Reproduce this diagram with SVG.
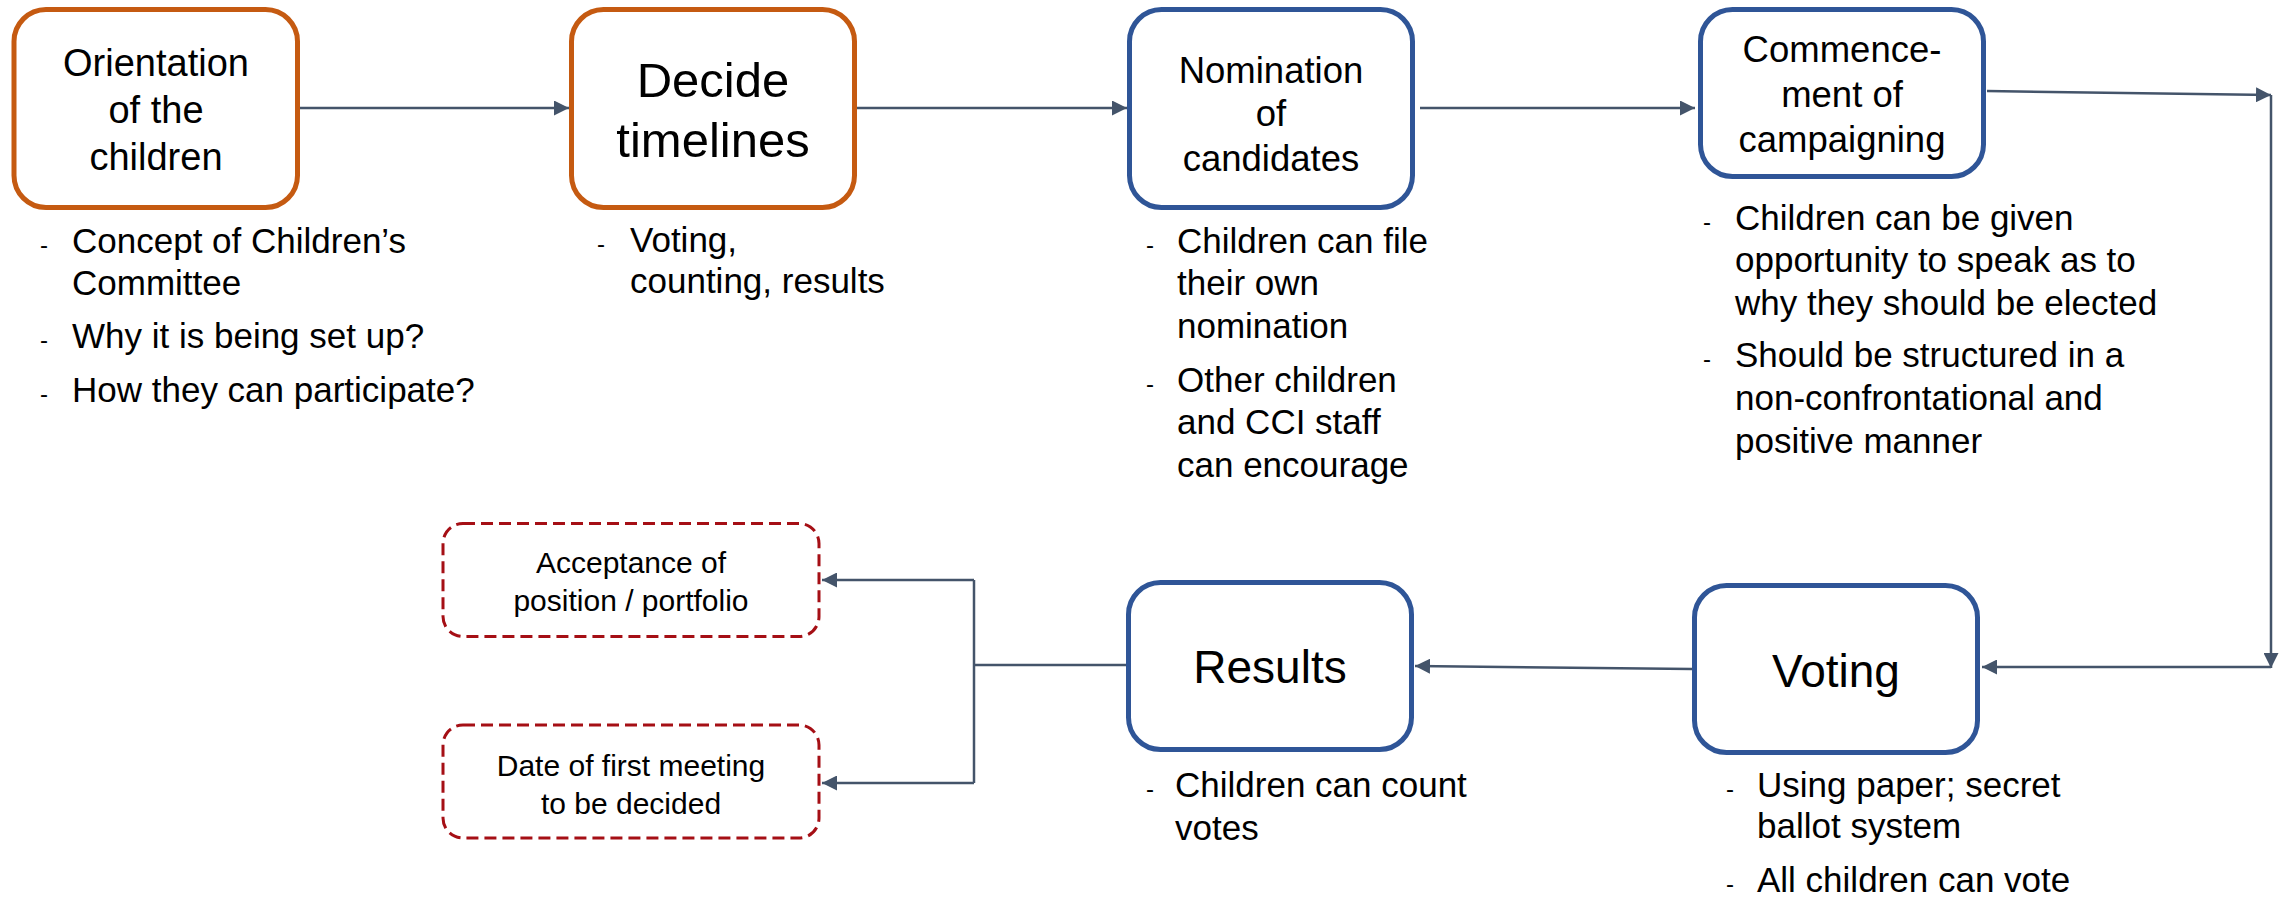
<svg xmlns="http://www.w3.org/2000/svg" width="2285" height="898" viewBox="0 0 2285 898">
<style>
.orange{fill:#fff;stroke:#C55A11;stroke-width:5}
.blue{fill:#fff;stroke:#2F5597;stroke-width:5}
.dashed{fill:#fff;stroke:#A50F15;stroke-width:3;stroke-dasharray:12 6}
text{font-family:"Liberation Sans",Arial,sans-serif;fill:#000}
.t{text-anchor:middle}
.b{font-size:35px}
.d{font-size:24px}
.s{font-size:30px}
.conn{fill:none;stroke:#44546A;stroke-width:2.5}
</style>
<defs>
<marker id="arr" markerUnits="userSpaceOnUse" markerWidth="16" markerHeight="15" refX="15" refY="7.5" orient="auto">
<path d="M0,0 L15,7.5 L0,15 z" fill="#44546A"/>
</marker>
</defs>
<rect width="2285" height="898" fill="#fff"/>
<g id="connectors">
<line class="conn" x1="300" y1="108" x2="569" y2="108" marker-end="url(#arr)"/>
<line class="conn" x1="857" y1="108" x2="1127" y2="108" marker-end="url(#arr)"/>
<line class="conn" x1="1420" y1="108" x2="1695" y2="108" marker-end="url(#arr)"/>
<line class="conn" x1="1987" y1="91" x2="2271" y2="95" marker-end="url(#arr)"/>
<line class="conn" x1="2271" y1="95" x2="2271" y2="668" marker-end="url(#arr)"/>
<line class="conn" x1="2271" y1="667" x2="1982" y2="667" marker-end="url(#arr)"/>
<line class="conn" x1="1692" y1="669" x2="1415" y2="666" marker-end="url(#arr)"/>
<polyline class="conn" points="1126,665 974,665"/>
<polyline class="conn" points="974,580 974,783"/>
<line class="conn" x1="974" y1="580" x2="822" y2="580" marker-end="url(#arr)"/>
<line class="conn" x1="974" y1="783" x2="822" y2="783" marker-end="url(#arr)"/>
</g>
<g id="orientation">
<rect class="orange" x="14" y="9.5" width="283.5" height="198" rx="32"/>
<text class="t" x="156" y="76" font-size="38">Orientation</text>
<text class="t" x="156" y="123" font-size="38">of the</text>
<text class="t" x="156" y="170" font-size="38">children</text>
<text class="d" x="40" y="253">-</text>
<text class="b" x="72" y="253">Concept of Children’s</text>
<text class="b" x="72" y="295">Committee</text>
<text class="d" x="40" y="348">-</text>
<text class="b" x="72" y="348">Why it is being set up?</text>
<text class="d" x="40" y="402">-</text>
<text class="b" x="72" y="402">How they can participate?</text>
</g>
<g id="decide">
<rect class="orange" x="571.5" y="9.5" width="283" height="198" rx="32"/>
<text class="t" x="713" y="97" font-size="49">Decide</text>
<text class="t" x="713" y="157" font-size="49">timelines</text>
<text class="d" x="597" y="252">-</text>
<text class="b" x="630" y="252">Voting,</text>
<text class="b" x="630" y="293">counting, results</text>
</g>
<g id="nomination">
<rect class="blue" x="1129.5" y="9.5" width="283" height="198" rx="32"/>
<text class="t" x="1271" y="83" font-size="36.5">Nomination</text>
<text class="t" x="1271" y="126" font-size="36.5">of</text>
<text class="t" x="1271" y="171" font-size="36.5">candidates</text>
<text class="d" x="1146" y="253">-</text>
<text class="b" x="1177" y="253">Children can file</text>
<text class="b" x="1177" y="295">their own</text>
<text class="b" x="1177" y="338">nomination</text>
<text class="d" x="1146" y="392">-</text>
<text class="b" x="1177" y="392">Other children</text>
<text class="b" x="1177" y="434">and CCI staff</text>
<text class="b" x="1177" y="477">can encourage</text>
</g>
<g id="commencement">
<rect class="blue" x="1700.5" y="9.5" width="283" height="167" rx="32"/>
<text class="t" x="1842" y="62" font-size="36.5">Commence-</text>
<text class="t" x="1842" y="107" font-size="36.5">ment of</text>
<text class="t" x="1842" y="152" font-size="36.5">campaigning</text>
<text class="d" x="1703" y="230">-</text>
<text class="b" x="1735" y="230">Children can be given</text>
<text class="b" x="1735" y="272">opportunity to speak as to</text>
<text class="b" x="1735" y="315">why they should be elected</text>
<text class="d" x="1703" y="367">-</text>
<text class="b" x="1735" y="367">Should be structured in a</text>
<text class="b" x="1735" y="410">non-confrontational and</text>
<text class="b" x="1735" y="453">positive manner</text>
</g>
<g id="voting">
<rect class="blue" x="1694.5" y="585.5" width="283" height="167" rx="32"/>
<text class="t" x="1836" y="687" font-size="46">Voting</text>
<text class="d" x="1726" y="797">-</text>
<text class="b" x="1757" y="797">Using paper; secret</text>
<text class="b" x="1757" y="838">ballot system</text>
<text class="d" x="1726" y="892">-</text>
<text class="b" x="1757" y="892">All children can vote</text>
</g>
<g id="results">
<rect class="blue" x="1128.5" y="582.5" width="283" height="167" rx="32"/>
<text class="t" x="1270" y="683" font-size="46">Results</text>
<text class="d" x="1146" y="797">-</text>
<text class="b" x="1175" y="797">Children can count</text>
<text class="b" x="1175" y="840">votes</text>
</g>
<g id="acceptance">
<rect class="dashed" x="443" y="523.5" width="376" height="113" rx="20"/>
<text class="t s" x="631" y="573">Acceptance of</text>
<text class="t s" x="631" y="611">position / portfolio</text>
</g>
<g id="first-meeting">
<rect class="dashed" x="443" y="725" width="376" height="113" rx="20"/>
<text class="t s" x="631" y="776">Date of first meeting</text>
<text class="t s" x="631" y="814">to be decided</text>
</g>
</svg>
